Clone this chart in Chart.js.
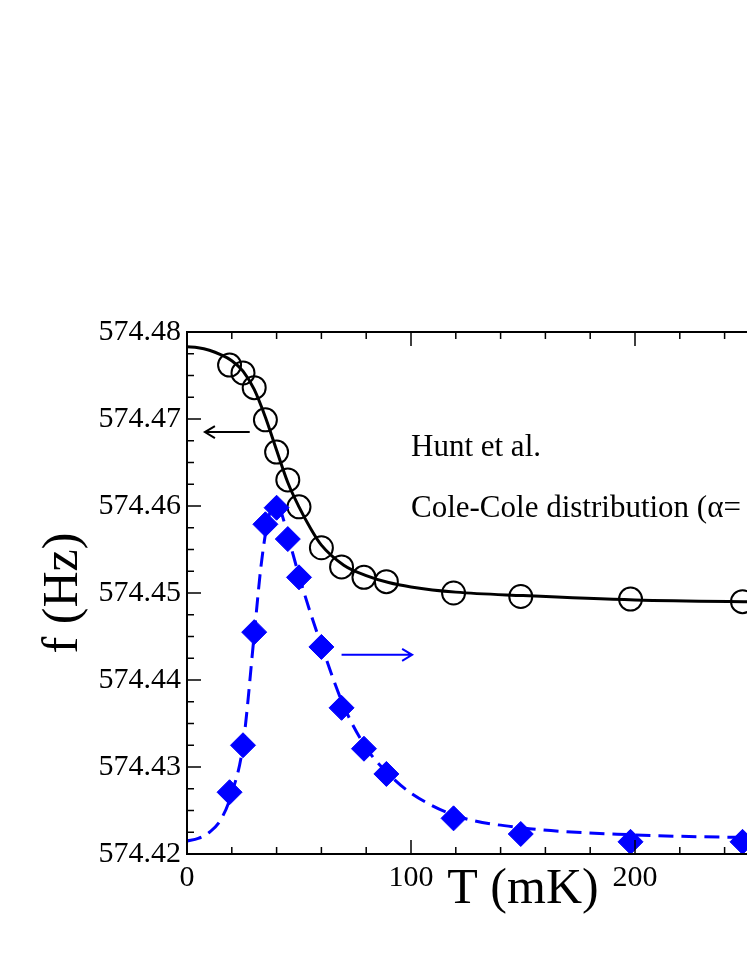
<!DOCTYPE html>
<html>
<head>
<meta charset="utf-8">
<script src="https://cdn.jsdelivr.net/npm/chart.js@4.4.1/dist/chart.umd.min.js"></script>
<style>
  html, body { margin: 0; padding: 0; background: #fff; overflow: hidden; }
  #wrap { width: 900px; height: 967px; }
</style>
</head>
<body>
<div id="wrap"><canvas id="chart" width="900" height="967"></canvas></div>
<script>
// measured temperatures (mK)
const tempData = [19, 25, 30, 35, 40, 45, 50, 60, 69, 79, 89, 119, 149, 198, 248];
// resonance frequency, open circles (left axis, Hz)
const freqData = [574.4762, 574.4753, 574.4736, 574.4699, 574.4662, 574.4630, 574.4599,
    574.4552, 574.4530, 574.4518, 574.4513, 574.4500, 574.4496, 574.4493, 574.4490];
// dissipation, filled diamonds (right axis, shown in left-axis units)
const dissData = [574.4271, 574.4325, 574.4455, 574.4579, 574.4598, 574.4562, 574.4518,
    574.4438, 574.4368, 574.4321, 574.4292, 574.4241, 574.4223, 574.4214, 574.4214];

// model curves (Hunt et al., Cole-Cole)
const fitT = [0, 5, 10, 15, 20, 25, 30, 35, 40, 45, 50, 55, 60, 70, 80, 90, 100, 120, 150, 200, 250, 300];
const freqFit = [574.4783, 574.4782, 574.4779, 574.4774, 574.4767, 574.4755, 574.4734, 574.4702,
    574.4664, 574.4627, 574.4599, 574.4575, 574.4555, 574.4532, 574.4520, 574.4512, 574.4507,
    574.4501, 574.4497, 574.4492, 574.4490, 574.4489];
const dissFitT = [0, 5, 10, 15, 20, 25, 30, 33, 36, 38, 40, 42, 45, 50, 55, 60, 70, 80, 90, 100, 120, 150, 200, 250, 300];
const dissFit = [574.4215, 574.4218, 574.4225, 574.4239, 574.4270, 574.4325, 574.4452, 574.4530,
    574.4582, 574.4598, 574.4601, 574.4593, 574.4566, 574.4520, 574.4478, 574.4440, 574.4370,
    574.4322, 574.4292, 574.4270, 574.4244, 574.4230, 574.4222, 574.4219, 574.4218];

const xTicks = [0, 100, 200, 300];
const yTicks = [574.42, 574.43, 574.44, 574.45, 574.46, 574.47, 574.48];

const pts = (xs, ys) => xs.map((t, i) => ({x: t, y: ys[i]}));
const serif = "'Liberation Serif', 'Times New Roman', serif";
Chart.defaults.font.family = serif;
Chart.defaults.color = "#000";

// inward tick marks + frame, like the original plot
const frameTicks = {
    id: "frameTicks",
    afterDatasetsDraw(chart) {
        const {ctx, chartArea: a, scales: {x, y}} = chart;
        ctx.save();
        ctx.strokeStyle = "#000";
        ctx.lineWidth = 1.5;
        ctx.beginPath();
        for (let t = 0; t <= 300; t += 20) {
            const px = x.getPixelForValue(t);
            const len = t % 100 === 0 ? 14 : 7;
            ctx.moveTo(px, a.bottom); ctx.lineTo(px, a.bottom - len);
            ctx.moveTo(px, a.top); ctx.lineTo(px, a.top + len);
        }
        for (let i = 0; i <= 24; i++) {
            const py = y.getPixelForValue(574.42 + i * 0.0025);
            const len = i % 4 === 0 ? 14 : 7;
            ctx.moveTo(a.left, py); ctx.lineTo(a.left + len, py);
            ctx.moveTo(a.right, py); ctx.lineTo(a.right - len, py);
        }
        ctx.stroke();
        ctx.lineWidth = 2;
        ctx.strokeRect(a.left, a.top, a.right - a.left, a.bottom - a.top);
        ctx.restore();
    }
};

// text labels and the two arrows pointing to their axes
const notes = {
    id: "notes",
    afterDatasetsDraw(chart) {
        const {ctx, scales: {x, y}} = chart;
        ctx.save();
        ctx.fillStyle = "#000";
        ctx.font = "31px " + serif;
        ctx.textBaseline = "alphabetic";
        ctx.fillText("Hunt et al.", x.getPixelForValue(100), y.getPixelForValue(574.4658));
        ctx.fillText("Cole-Cole distribution (\u03b1=", x.getPixelForValue(100), y.getPixelForValue(574.4587));

        function arrow(x0, x1, yv, color) {
            const ya = y.getPixelForValue(yv);
            const p0 = x.getPixelForValue(x0), p1 = x.getPixelForValue(x1);
            const d = p1 > p0 ? -1 : 1;
            ctx.strokeStyle = color;
            ctx.lineWidth = 2;
            ctx.beginPath();
            ctx.moveTo(p0, ya); ctx.lineTo(p1, ya);
            ctx.moveTo(p1 + d * 10, ya - 6); ctx.lineTo(p1, ya); ctx.lineTo(p1 + d * 10, ya + 6);
            ctx.stroke();
        }
        arrow(28, 8, 574.4685, "#000");
        arrow(69, 100.5, 574.4429, "#0000ff");
        ctx.restore();
    }
};

new Chart(document.getElementById("chart").getContext("2d"), {
    type: "line",
    data: {
        datasets: [{
            data: pts(dissFitT, dissFit),
            yAxisID: "y2",
            borderColor: "#0000ff",
            borderWidth: 3,
            borderDash: [15, 8],
            pointRadius: 0,
            cubicInterpolationMode: "monotone"
        }, {
            data: pts(tempData, dissData),
            yAxisID: "y2",
            showLine: false,
            pointStyle: "rectRot",
            pointRadius: 12.5,
            pointBackgroundColor: "#0000ff",
            pointBorderColor: "#0000ff",
            pointBorderWidth: 1
        }, {
            data: pts(fitT, freqFit),
            borderColor: "#000",
            borderWidth: 3,
            pointRadius: 0,
            cubicInterpolationMode: "monotone"
        }, {
            data: pts(tempData, freqData),
            showLine: false,
            pointStyle: "circle",
            pointRadius: 11.5,
            pointBackgroundColor: "rgba(0,0,0,0)",
            pointBorderColor: "#000",
            pointBorderWidth: 2
        }]
    },
    options: {
        responsive: false,
        animation: false,
        layout: {padding: {left: 0, top: 332, right: 41, bottom: 0}},
        plugins: {legend: {display: false}, tooltip: {enabled: false}},
        scales: {
            x: {
                type: "linear",
                min: 0, max: 300,
                afterFit(s) { s.height = 113; },
                afterBuildTicks(s) { s.ticks = xTicks.map(v => ({value: v})); },
                grid: {display: false, drawTicks: false},
                border: {display: false},
                ticks: {padding: 6, font: {size: 30}, maxRotation: 0},
                title: {display: true, text: "T (mK)", font: {size: 50}, padding: {top: 0, bottom: 47}}
            },
            y: {
                min: 574.42, max: 574.48,
                afterFit(s) { s.width = 187; },
                afterBuildTicks(s) { s.ticks = yTicks.map(v => ({value: v})); },
                grid: {display: false, drawTicks: false},
                border: {display: false},
                ticks: {padding: 6, font: {size: 30}, callback: v => v.toFixed(2)},
                title: {display: true, text: "f (Hz)", font: {size: 50}, padding: {top: 34, bottom: 0}}
            },
            y2: {
                display: false,
                position: "right",
                min: 574.42, max: 574.48
            }
        }
    },
    plugins: [frameTicks, notes]
});
</script>
</body>
</html>
